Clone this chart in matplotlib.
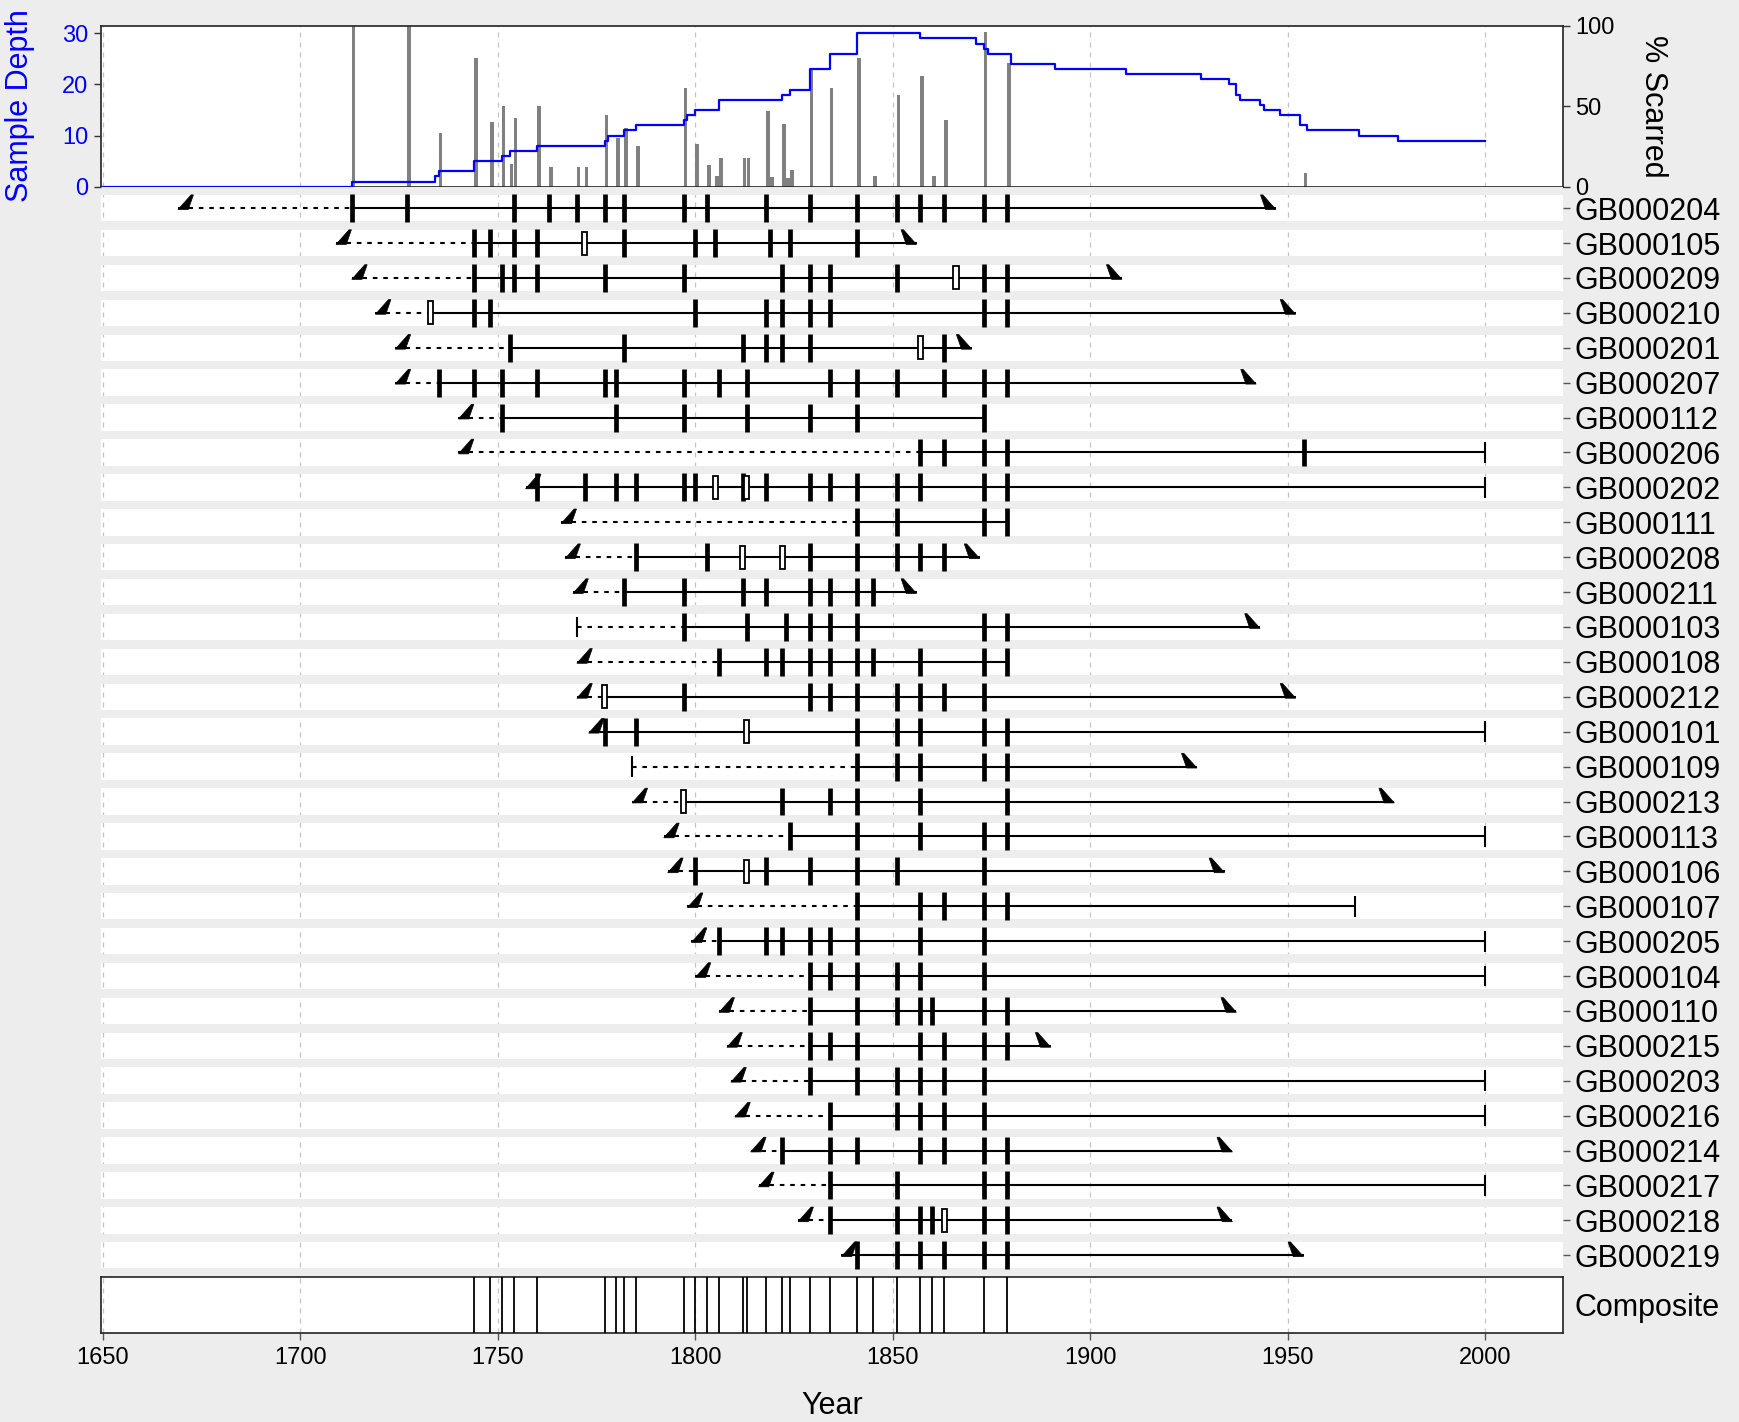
import numpy as np
import matplotlib
matplotlib.use("Agg")
import matplotlib.pyplot as plt
from matplotlib.patches import Polygon, Rectangle

plt.rcParams['font.family'] = ['Liberation Sans', 'DejaVu Sans']

# ---------------- data ----------------
series_ids = ["GB000204", "GB000105", "GB000209", "GB000210", "GB000201", "GB000207",
              "GB000112", "GB000206", "GB000202", "GB000111", "GB000208", "GB000211",
              "GB000103", "GB000108", "GB000212", "GB000101", "GB000109", "GB000213",
              "GB000113", "GB000106", "GB000107", "GB000205", "GB000104", "GB000110",
              "GB000215", "GB000203", "GB000216", "GB000214", "GB000217", "GB000218",
              "GB000219"]

first_years = [1669, 1709, 1713, 1719, 1724, 1724, 1740, 1740, 1757, 1766, 1767, 1769,
               1770, 1770, 1770, 1773, 1784, 1784, 1792, 1793, 1798, 1799, 1800, 1806,
               1808, 1809, 1810, 1814, 1816, 1826, 1837]
first_types = ["inner"] * 12 + ["pith", "inner", "inner", "inner", "pith"] + ["inner"] * 14

last_years = [1947, 1856, 1908, 1952, 1870, 1942, 1873, 2000, 2000, 1879, 1872, 1856,
              1943, 1879, 1952, 2000, 1927, 1977, 2000, 1934, 1967, 2000, 2000, 1937,
              1890, 2000, 2000, 1936, 2000, 1936, 1954]
last_types = ["outer", "outer", "outer", "outer", "outer", "outer", "none", "bark",
              "bark", "none", "outer", "outer", "outer", "none", "outer", "bark",
              "outer", "outer", "bark", "outer", "bark", "bark", "bark", "outer",
              "outer", "bark", "bark", "outer", "bark", "outer", "outer"]

scar_years = [
    [1713, 1727, 1754, 1763, 1770, 1777, 1782, 1797, 1803, 1818, 1829, 1841, 1851, 1857, 1863, 1873, 1879],
    [1744, 1748, 1754, 1760, 1782, 1800, 1805, 1819, 1824, 1841],
    [1744, 1751, 1754, 1760, 1777, 1797, 1822, 1829, 1834, 1851, 1873, 1879],
    [1744, 1748, 1800, 1818, 1822, 1829, 1834, 1873, 1879],
    [1753, 1782, 1812, 1818, 1822, 1829, 1863],
    [1735, 1744, 1751, 1760, 1777, 1780, 1797, 1806, 1813, 1834, 1841, 1851, 1863, 1873, 1879],
    [1751, 1780, 1797, 1813, 1829, 1841, 1873],
    [1857, 1863, 1873, 1879, 1954],
    [1760, 1772, 1780, 1785, 1797, 1800, 1812, 1818, 1829, 1834, 1841, 1851, 1857, 1873, 1879],
    [1841, 1851, 1873, 1879],
    [1785, 1803, 1829, 1841, 1851, 1857, 1863],
    [1782, 1797, 1812, 1818, 1829, 1834, 1841, 1845],
    [1797, 1813, 1823, 1829, 1834, 1841, 1873, 1879],
    [1806, 1818, 1822, 1829, 1834, 1841, 1845, 1857, 1873, 1879],
    [1797, 1829, 1834, 1841, 1851, 1857, 1863, 1873],
    [1777, 1785, 1841, 1851, 1857, 1873, 1879],
    [1841, 1851, 1857, 1873, 1879],
    [1822, 1834, 1841, 1857, 1879],
    [1824, 1841, 1857, 1873, 1879],
    [1800, 1818, 1829, 1841, 1851, 1873],
    [1841, 1857, 1863, 1873, 1879],
    [1806, 1818, 1822, 1829, 1834, 1841, 1857, 1873],
    [1829, 1834, 1841, 1851, 1857, 1873],
    [1829, 1841, 1851, 1857, 1860, 1873, 1879],
    [1829, 1834, 1841, 1857, 1863, 1873, 1879],
    [1829, 1841, 1851, 1857, 1863, 1873],
    [1834, 1851, 1857, 1863, 1873],
    [1822, 1834, 1841, 1857, 1863, 1873, 1879],
    [1834, 1851, 1873, 1879],
    [1834, 1851, 1857, 1860, 1873, 1879],
    [1841, 1851, 1857, 1863, 1873, 1879],
]

injury_years = [[], [1772], [1866], [1733], [1857], [], [], [], [1805, 1813], [],
                [1812, 1822], [], [], [], [1777], [1813], [], [1797], [], [1813],
                [], [], [], [], [], [], [], [], [], [1863], []]

composite_years = [1744, 1748, 1751, 1754, 1760, 1777, 1780, 1782, 1785, 1797, 1800,
                   1803, 1806, 1812, 1813, 1818, 1822, 1824, 1829, 1834, 1841, 1845,
                   1851, 1857, 1860, 1863, 1873, 1879]

year_ticks = [1650, 1700, 1750, 1800, 1850, 1900, 1950, 2000]

# ---------------- derived: sample depth & percent scarred ----------------
years_all = np.arange(1650, 2001)
depth = np.zeros(len(years_all), dtype=int)
scar_count = np.zeros(len(years_all), dtype=int)
for s in range(len(series_ids)):
    starts = []
    if scar_years[s]:
        starts.append(min(scar_years[s]))
    if injury_years[s]:
        starts.append(min(injury_years[s]) + 1)
    start = min(starts)
    depth[(years_all >= start) & (years_all <= last_years[s])] += 1
    for yr in scar_years[s]:
        scar_count[yr - 1650] += 1
mask = scar_count > 0
pct_years = years_all[mask]
pct_values = 100.0 * scar_count[mask] / depth[mask]

# ---------------- figure layout ----------------
W, H = 1740, 1422
BG = '#EDEDED'
GRID = '#C4C4C4'
fig = plt.figure(figsize=(W / 100, H / 100), dpi=100, facecolor=BG)

def fy(px):
    return 1 - px / H

x0, x1 = 101 / W, 1563 / W
XLIM = (1649.5, 2019.7)

ax_top = fig.add_axes([x0, fy(186.7), x1 - x0, fy(25.7) - fy(186.7)])
ax_rug = fig.add_axes([x0, fy(1276.7), x1 - x0, fy(186.7) - fy(1276.7)])
ax_comp = fig.add_axes([x0, fy(1333), x1 - x0, fy(1276.7) - fy(1333)])

grid_kw = dict(color=GRID, lw=0.9, linestyle=(0, (4, 4)))

# ---------------- top panel ----------------
ax_depth = ax_top.twinx()   # created first so the tick sides can be set afterwards

ax_top.set_facecolor('white')
ax_top.set_xlim(*XLIM)
ax_top.set_ylim(0, 100)
for xt in year_ticks:
    ax_top.axvline(xt, zorder=0.5, **grid_kw)
ax_top.bar(pct_years, pct_values, width=0.9, align='edge', color='#808080', zorder=2)
ax_top.set_xticks([])
ax_top.set_yticks([0, 50, 100])
ax_top.yaxis.set_ticks_position('right')
ax_top.yaxis.set_label_position('right')
ax_top.tick_params(axis='y', labelsize=17, colors='#333333', labelcolor='black',
                   length=5, width=1, pad=4, left=False, labelleft=False,
                   right=True, labelright=True)
for sp in ax_top.spines.values():
    sp.set_color('#222222')
    sp.set_linewidth(1.2)

ax_depth.set_xlim(*XLIM)
ax_depth.set_ylim(0, 31.5)
ax_depth.step(years_all, depth, where='post', color='#0000FF', lw=1.6, zorder=3)
ax_depth.set_yticks([0, 10, 20, 30])
ax_depth.yaxis.set_ticks_position('left')
ax_depth.yaxis.set_label_position('left')
ax_depth.tick_params(axis='y', labelsize=17, colors='#333333', labelcolor='#0000FF',
                     length=5, width=1, pad=4, left=True, labelleft=True,
                     right=False, labelright=False)
ax_depth.set_xticks([])
for sp in ax_depth.spines.values():
    sp.set_visible(False)

fig.text(20 / W, fy(106), 'Sample Depth', rotation=90, ha='center', va='center',
         color='#0000FF', fontsize=22)
fig.text(1653 / W, fy(106), '% Scarred', rotation=270, ha='center', va='center',
         color='black', fontsize=22)

# ---------------- rug panel ----------------
n = len(series_ids)
rows = np.arange(1, n + 1)
half = 0.38
ax_rug.set_facecolor('white')
ax_rug.set_xlim(*XLIM)
ax_rug.set_ylim(n + 0.615, 0.385)
for xt in year_ticks:
    ax_rug.axvline(xt, zorder=0.5, **grid_kw)
# grey separators between rows
ax_rug.axhspan(0.0, 1 - half, color=BG, zorder=1, lw=0)
for i in range(1, n):
    ax_rug.axhspan(i + half, i + 1 - half, color=BG, zorder=1, lw=0)
ax_rug.axhspan(n + half, n + 1, color=BG, zorder=1, lw=0)

solid_kw = dict(color='black', lw=1.5, zorder=3, solid_capstyle='butt')
dash_kw = dict(color='black', lw=1.5, zorder=3, linestyle=(0, (2.2, 2.8)))

for i in range(n):
    y = rows[i]
    events = scar_years[i] + injury_years[i]
    rec_start = min(events)
    first, last = first_years[i], last_years[i]
    if first < rec_start:
        ax_rug.plot([first, rec_start], [y, y], **dash_kw)
    ax_rug.plot([rec_start, last], [y, y], **solid_kw)
    if first_types[i] == 'inner':
        ax_rug.add_patch(Polygon([(first, y + 0.04), (first + 2.6, y + 0.04),
                                  (first + 3.9, y - 0.38), (first + 3.3, y - 0.38)],
                                 closed=True, fc='black', ec='black', lw=0.5, zorder=4))
    elif first_types[i] == 'pith':
        ax_rug.vlines(first, y - 0.3, y + 0.3, color='black', lw=1.5, zorder=4)
    if last_types[i] == 'outer':
        ax_rug.add_patch(Polygon([(last, y + 0.04), (last - 2.6, y + 0.04),
                                  (last - 3.9, y - 0.38), (last - 3.3, y - 0.38)],
                                 closed=True, fc='black', ec='black', lw=0.5, zorder=4))
    elif last_types[i] == 'bark':
        ax_rug.vlines(last, y - 0.3, y + 0.3, color='black', lw=1.5, zorder=4)
    ax_rug.vlines(scar_years[i], y - 0.4, y + 0.4, color='black', lw=3.4, zorder=5,
                  capstyle='butt')
    for yr in injury_years[i]:
        ax_rug.add_patch(Rectangle((yr - 0.65, y - 0.33), 1.3, 0.66, fc='white',
                                   ec='black', lw=1.3, zorder=6))

ax_rug.set_xticks([])
ax_rug.yaxis.tick_right()
ax_rug.set_yticks(rows)
ax_rug.set_yticklabels(series_ids)
ax_rug.tick_params(axis='y', labelsize=22, colors='#555555', labelcolor='black',
                   length=5, width=1, pad=3)
for sp in ax_rug.spines.values():
    sp.set_visible(False)

# ---------------- composite panel ----------------
ax_comp.set_facecolor('white')
ax_comp.set_xlim(*XLIM)
ax_comp.set_ylim(0, 1)
for xt in year_ticks:
    ax_comp.axvline(xt, zorder=0.5, **grid_kw)
ax_comp.vlines(composite_years, 0, 1, color='black', lw=1.3, zorder=3)
ax_comp.set_xticks(year_ticks)
ax_comp.tick_params(axis='x', labelsize=17, colors='#555555', labelcolor='black',
                    length=5, width=1, pad=5)
ax_comp.yaxis.tick_right()
ax_comp.set_yticks([0.5])
ax_comp.set_yticklabels(['Composite'])
ax_comp.tick_params(axis='y', labelsize=22, length=0, pad=8, labelcolor='black')
for sp in ax_comp.spines.values():
    sp.set_color('#222222')
    sp.set_linewidth(1.2)

fig.text(832 / W, fy(1406), 'Year', ha='center', va='center', fontsize=22)

fig.savefig('out.png', dpi=100, facecolor=BG)
